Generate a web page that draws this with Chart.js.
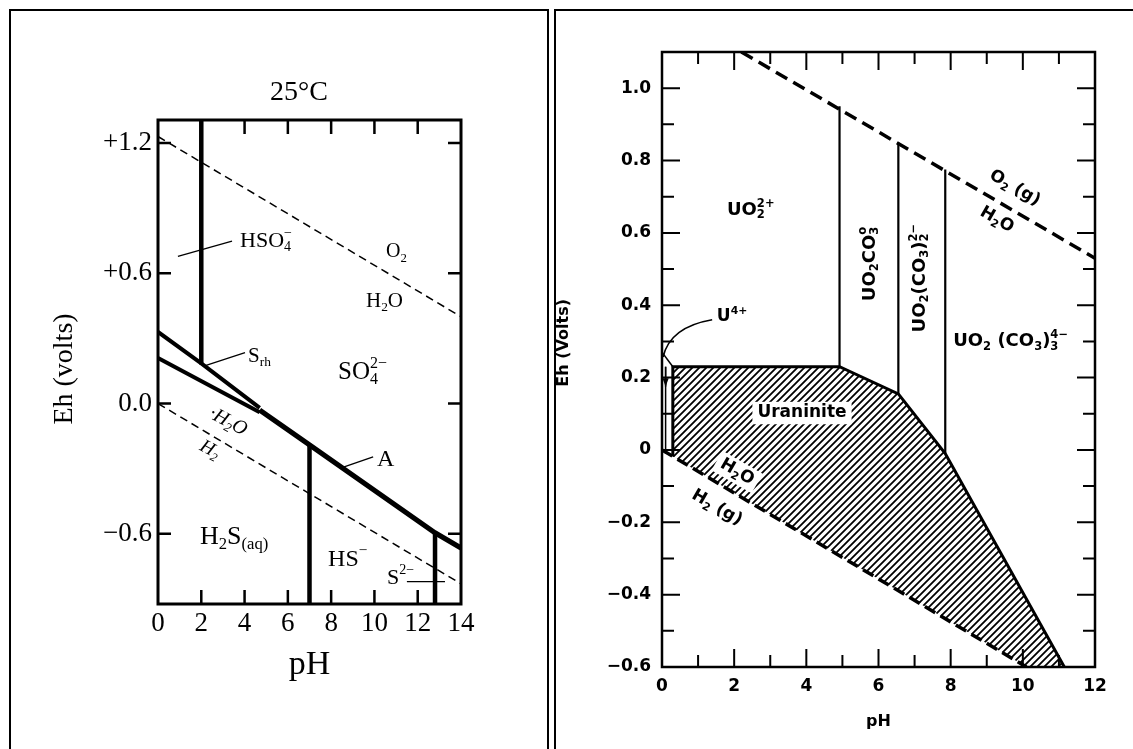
<!DOCTYPE html>
<html>
<head>
<meta charset="utf-8">
<title>Eh-pH diagrams</title>
<script src="https://cdn.jsdelivr.net/npm/chart.js@4.4.1/dist/chart.umd.min.js"></script>
<style>
  body { margin: 0; background: #fff; width: 1133px; height: 749px; overflow: hidden; position: relative; }
  .frame { position: absolute; border: 2px solid #000; box-sizing: border-box; }
  canvas { position: absolute; top: 0; }
</style>
</head>
<body>
<div class="frame" style="left:9px;top:9px;width:540px;height:760px"></div>
<div class="frame" style="left:554px;top:9px;width:600px;height:760px"></div>
<canvas id="sulfur" width="552" height="749" style="left:0"></canvas>
<canvas id="uranium" width="577" height="749" style="left:556px"></canvas>
<script>
// ---- sulfur system, 25°C (left) ----
const sPhTicks = [0, 2, 4, 6, 8, 10, 12, 14];
const sEhTicks = [-0.6, 0.0, 0.6, 1.2];
const sO2Ph = [0, 14],            sO2Eh = [1.23, 0.40];
const sH2Ph = [0, 14],            sH2Eh = [0.00, -0.83];
const sHso4Ph = [2, 2],           sHso4Eh = [1.31, 0.18];
const sRhTopPh = [0, 2, 4.7],     sRhTopEh = [0.33, 0.185, -0.02];
const sRhBotPh = [0, 4.7],        sRhBotEh = [0.21, -0.04];
const sAPh = [4.7, 7, 12.8, 14],  sAEh = [-0.03, -0.19, -0.595, -0.665];
const sHsPh = [7, 7],             sHsEh = [-0.19, -0.95];
const sS2Ph = [12.8, 12.8],       sS2Eh = [-0.595, -0.95];

// ---- uranium system (right) ----
const uPhTicks = [0, 2, 4, 6, 8, 10, 12];
const uPhMinor = [1, 3, 5, 7, 9, 11];
const uEhTicks = [-0.6, -0.4, -0.2, 0, 0.2, 0.4, 0.6, 0.8, 1.0];
const uEhMinor = [-0.5, -0.3, -0.1, 0.1, 0.3, 0.5, 0.7, 0.9];
const uO2Ph = [2.2, 12],          uO2Eh = [1.10, 0.53];
const uH2Ph = [0, 10.1],          uH2Eh = [0.0, -0.6];
const uCo3Ph = [4.92, 4.92],      uCo3Eh = [0.95, 0.23];
const uDiPh = [6.55, 6.55],       uDiEh = [0.85, 0.155];
const uTriPh = [7.85, 7.85],      uTriEh = [0.775, -0.01];
const uU4Ph = [0, 0.3],           uU4Eh = [0.27, 0.23];
const uEdgePh = [0.3, 0.3, 4.92, 6.55, 7.85, 11.15];
const uEdgeEh = [-0.018, 0.23, 0.23, 0.155, -0.01, -0.6];
const uUranPh = [0.3, 4.92, 6.55, 7.85, 11.15, 10.1, 0.3, 0.3];
const uUranEh = [0.23, 0.23, 0.155, -0.01, -0.6, -0.6, -0.018, 0.23];

const serif = "'Liberation Serif', 'Times New Roman', serif";
const sans = "'DejaVu Sans', sans-serif";

function pts(xs, ys) { return xs.map((x, i) => ({ x: x, y: ys[i] })); }

function seg(xs, ys, w, dash) {
  return {
    data: pts(xs, ys), showLine: true, fill: false, tension: 0,
    borderColor: '#000', borderWidth: w, borderDash: dash || [],
    borderCapStyle: 'butt', borderJoinStyle: 'miter', pointRadius: 0
  };
}

const fixTicks = vals => s => { s.ticks = vals.map(v => ({ value: v })); };

function hatch() {
  const n = 7;
  const c = document.createElement('canvas');
  c.width = c.height = n;
  const g = c.getContext('2d');
  g.strokeStyle = '#000';
  g.lineWidth = 1.8;
  g.beginPath();
  g.moveTo(0, n); g.lineTo(n, 0);
  g.moveTo(-n / 2, n / 2); g.lineTo(n / 2, -n / 2);
  g.moveTo(n / 2, n * 1.5); g.lineTo(n * 1.5, n / 2);
  g.stroke();
  return g.createPattern(c, 'repeat');
}

// "HSO_{4}^{−}" -> normal / sub / sup pieces
function parseRich(s) {
  const out = [];
  let i = 0, buf = '';
  while (i < s.length) {
    const c = s[i];
    if ((c === '_' || c === '^') && s[i + 1] === '{') {
      if (buf) { out.push({ t: buf, k: 'n' }); buf = ''; }
      const j = s.indexOf('}', i);
      out.push({ t: s.slice(i + 2, j), k: c === '_' ? 'sub' : 'sup' });
      i = j + 1;
    } else { buf += c; i++; }
  }
  if (buf) out.push({ t: buf, k: 'n' });
  return out;
}

function drawRich(ctx, lab, px, py, fontFn) {
  const parts = parseRich(lab.s);
  const size = lab.size;
  const items = [];
  let w = 0;
  parts.forEach((p, i) => {
    const sz = p.k === 'n' ? size : size * 0.64;
    ctx.font = fontFn(sz, lab);
    const tw = ctx.measureText(p.t).width;
    const dy = p.k === 'sub' ? size * 0.3 : p.k === 'sup' ? -size * 0.36 : 0;
    if (p.k === 'sup' && i > 0 && parts[i - 1].k === 'sub') {
      const x0 = items[items.length - 1].x;   // stack over the subscript
      items.push({ t: p.t, x: x0, dy: dy, sz: sz });
      w = Math.max(w, x0 + tw);
    } else {
      items.push({ t: p.t, x: w, dy: dy, sz: sz });
      w += tw;
    }
  });
  ctx.save();
  ctx.translate(px, py);
  if (lab.rot) ctx.rotate(lab.rot * Math.PI / 180);
  const x0 = lab.align === 'center' ? -w / 2 : 0;
  if (lab.bg) {
    ctx.fillStyle = '#fff';
    ctx.fillRect(x0 - 5, -size * 0.66, w + 10, size * 1.32);
  }
  ctx.fillStyle = '#000';
  ctx.textBaseline = 'middle';
  ctx.textAlign = 'left';
  items.forEach(it => { ctx.font = fontFn(it.sz, lab); ctx.fillText(it.t, x0 + it.x, it.dy); });
  ctx.restore();
}

// frame, inward tick marks, leader lines and field labels
function overlay(spec) {
  return {
    id: 'overlay',
    afterDatasetsDraw(chart) {
      const { ctx, chartArea: a, scales: { x, y } } = chart;
      const X = v => x.getPixelForValue(v), Y = v => y.getPixelForValue(v);
      ctx.save();
      ctx.strokeStyle = '#000';
      ctx.fillStyle = '#000';
      ctx.lineWidth = spec.tickWidth;
      ctx.beginPath();
      spec.xMarks.forEach(([vals, len]) => vals.forEach(v => {
        ctx.moveTo(X(v), a.top); ctx.lineTo(X(v), a.top + len);
        ctx.moveTo(X(v), a.bottom); ctx.lineTo(X(v), a.bottom - len);
      }));
      spec.yMarks.forEach(([vals, len]) => vals.forEach(v => {
        ctx.moveTo(a.left, Y(v)); ctx.lineTo(a.left + len, Y(v));
        ctx.moveTo(a.right, Y(v)); ctx.lineTo(a.right - len, Y(v));
      }));
      ctx.stroke();
      ctx.lineWidth = spec.frameWidth;
      ctx.strokeRect(a.left, a.top, a.width, a.height);

      spec.leaders.forEach(l => {
        const p = l.pts.map(q => [X(q[0]), Y(q[1])]);
        ctx.lineWidth = l.w || 1.3;
        ctx.beginPath();
        ctx.moveTo(p[0][0], p[0][1]);
        if (p.length === 3) ctx.quadraticCurveTo(p[1][0], p[1][1], p[2][0], p[2][1]);
        else ctx.lineTo(p[1][0], p[1][1]);
        ctx.stroke();
        if (l.head) {
          const e = p[p.length - 1], b = p[p.length - 2];
          const ang = Math.atan2(e[1] - b[1], e[0] - b[0]);
          ctx.beginPath();
          ctx.moveTo(e[0], e[1]);
          ctx.lineTo(e[0] - 9 * Math.cos(ang - 0.35), e[1] - 9 * Math.sin(ang - 0.35));
          ctx.lineTo(e[0] - 9 * Math.cos(ang + 0.35), e[1] - 9 * Math.sin(ang + 0.35));
          ctx.closePath();
          ctx.fill();
        }
      });
      spec.labels.forEach(l => drawRich(ctx, l, X(l.ph), Y(l.eh), spec.font));
      ctx.restore();
    }
  };
}

const sulfurTick = v => v > 0 ? '+' + v.toFixed(1) : v < 0 ? '\u2212' + Math.abs(v).toFixed(1) : '0.0';
const uranTick = v => Math.abs(v) < 1e-9 ? '0' : (v < 0 ? '\u2212' : '') + Math.abs(v).toFixed(1);

new Chart(document.getElementById('sulfur'), {
  type: 'scatter',
  data: {
    datasets: [
      seg(sO2Ph, sO2Eh, 1.5, [8, 5]),
      seg(sH2Ph, sH2Eh, 1.5, [8, 5]),
      seg(sHso4Ph, sHso4Eh, 4.5),
      seg(sRhTopPh, sRhTopEh, 4),
      seg(sRhBotPh, sRhBotEh, 4),
      seg(sAPh, sAEh, 5),
      seg(sHsPh, sHsEh, 4.5),
      seg(sS2Ph, sS2Eh, 4.5)
    ]
  },
  options: {
    responsive: false, animation: false, events: [],
    layout: { padding: { left: 0, right: 91, top: 0, bottom: 0 } },
    plugins: {
      legend: { display: false }, tooltip: { enabled: false },
      title: {
        display: true, text: '25°C   ', fullSize: false, color: '#000',
        font: { family: serif, size: 28, weight: 'normal' },
        padding: { top: 76, bottom: 10.4 }
      }
    },
    scales: {
      x: {
        type: 'linear', min: 0, max: 14,
        afterBuildTicks: fixTicks(sPhTicks),
        afterFit: s => { s.height = 145; },
        grid: { display: false, drawTicks: false }, border: { display: false },
        ticks: { color: '#000', padding: 4, maxRotation: 0, autoSkip: false, font: { family: serif, size: 27 } },
        title: { display: true, text: 'pH', color: '#000', font: { family: serif, size: 34 }, padding: { top: 0, bottom: 63.6 } }
      },
      y: {
        type: 'linear', min: -0.923, max: 1.306,
        afterBuildTicks: fixTicks(sEhTicks),
        afterFit: s => { s.width = 158; },
        grid: { display: false, drawTicks: false }, border: { display: false },
        ticks: { color: '#000', padding: 6, autoSkip: false, font: { family: serif, size: 27 }, callback: sulfurTick },
        title: { display: true, text: 'Eh (volts)  ', color: '#000', font: { family: serif, size: 28 }, padding: { top: 48, bottom: 0 } }
      }
    }
  },
  plugins: [overlay({
    font: (sz, l) => `${l.style || 'normal'} normal ${sz}px ${serif}`,
    frameWidth: 3, tickWidth: 2.5,
    xMarks: [[[2, 4, 6, 8, 10, 12], 14]],
    yMarks: [[sEhTicks, 13]],
    leaders: [
      { pts: [[0.92, 0.678], [3.42, 0.748]] },
      { pts: [[2.08, 0.171], [4.02, 0.235]] },
      { pts: [[8.5, -0.295], [9.94, -0.245]] },
      { pts: [[11.5, -0.82], [13.26, -0.82]] }
    ],
    labels: [
      { s: 'HSO_{4}^{\u2212}', ph: 3.79, eh: 0.748, size: 22 },
      { s: 'O_{2}', ph: 10.54, eh: 0.697, size: 20 },
      { s: 'H_{2}O', ph: 9.61, eh: 0.471, size: 21 },
      { s: 'SO_{4}^{2\u2212}', ph: 8.32, eh: 0.143, size: 25 },
      { s: 'S_{rh}', ph: 4.16, eh: 0.217, size: 21 },
      { s: '\u00b7H_{2}O', ph: 3.23, eh: -0.083, size: 20, rot: 28, style: 'italic', align: 'center' },
      { s: 'H_{2}', ph: 2.40, eh: -0.212, size: 19, rot: 28, style: 'italic', align: 'center' },
      { s: 'A', ph: 10.12, eh: -0.258, size: 24 },
      { s: 'H_{2}S_{(aq)}', ph: 1.94, eh: -0.614, size: 26 },
      { s: 'HS^{\u2212}', ph: 7.86, eh: -0.72, size: 24 },
      { s: 'S^{2\u2212}', ph: 10.58, eh: -0.803, size: 22 }
    ]
  })]
});

new Chart(document.getElementById('uranium'), {
  type: 'scatter',
  data: {
    datasets: [
      seg(uO2Ph, uO2Eh, 3.5, [13, 7]),
      seg(uH2Ph, uH2Eh, 3.5, [12, 6]),
      seg(uCo3Ph, uCo3Eh, 2.2),
      seg(uDiPh, uDiEh, 2.2),
      seg(uTriPh, uTriEh, 2.2),
      seg(uU4Ph, uU4Eh, 1.5),
      seg(uEdgePh, uEdgeEh, 3),
      {
        data: pts(uUranPh, uUranEh), showLine: true, tension: 0, fill: 'shape',
        backgroundColor: hatch(), borderColor: 'rgba(0,0,0,0)', borderWidth: 0, pointRadius: 0
      }
    ]
  },
  options: {
    responsive: false, animation: false, events: [],
    layout: { padding: { left: 0, right: 38, top: 52, bottom: 0 } },
    plugins: { legend: { display: false }, tooltip: { enabled: false } },
    scales: {
      x: {
        type: 'linear', min: 0, max: 12,
        afterBuildTicks: fixTicks(uPhTicks),
        afterFit: s => { s.height = 82; },
        grid: { display: false, drawTicks: false }, border: { display: false },
        ticks: { color: '#000', padding: 9, maxRotation: 0, autoSkip: false, font: { family: sans, size: 17, weight: 'bold' } },
        title: { display: true, text: 'pH', color: '#000', font: { family: sans, size: 16, weight: 'bold' }, padding: { top: 0, bottom: 17.4 } }
      },
      y: {
        type: 'linear', min: -0.6, max: 1.1,
        afterBuildTicks: fixTicks(uEhTicks),
        afterFit: s => { s.width = 106; },
        grid: { display: false, drawTicks: false }, border: { display: false },
        ticks: { color: '#000', padding: 11, autoSkip: false, font: { family: sans, size: 17, weight: 'bold' }, callback: uranTick },
        title: { display: true, text: '      Eh (Volts)', color: '#000', font: { family: sans, size: 16, weight: 'bold', lineHeight: 1 }, padding: { top: 0, bottom: 0 } }
      }
    }
  },
  plugins: [overlay({
    font: (sz) => `normal bold ${sz}px ${sans}`,
    frameWidth: 2.5, tickWidth: 2,
    xMarks: [[uPhTicks, 18], [uPhMinor, 12]],
    yMarks: [[uEhTicks, 18], [uEhMinor, 12]],
    leaders: [
      { pts: [[0.03, 0.257], [0.22, 0.34], [1.39, 0.36]], w: 1.5 },
      { pts: [[0.1, 0.23], [0.1, -0.01]], w: 1.5 },
      { pts: [[0.1, 0.23], [0.1, 0.175]], w: 1.5, head: true }
    ],
    labels: [
      { s: 'UO_{2}^{2+}', ph: 1.80, eh: 0.663, size: 18 },
      { s: 'UO_{2}CO_{3}^{o}', ph: 5.76, eh: 0.514, size: 18, rot: -90, align: 'center' },
      { s: 'UO_{2}(CO_{3})_{2}^{2\u2212}', ph: 7.15, eh: 0.475, size: 18, rot: -90, align: 'center' },
      { s: 'UO_{2} (CO_{3})_{3}^{4\u2212}', ph: 8.07, eh: 0.30, size: 18 },
      { s: 'O_{2} (g)', ph: 9.78, eh: 0.724, size: 17, rot: 30, align: 'center' },
      { s: 'H_{2}O', ph: 9.28, eh: 0.636, size: 17, rot: 30, align: 'center' },
      { s: 'Uraninite', ph: 3.88, eh: 0.102, size: 17, align: 'center', bg: true },
      { s: 'H_{2}O', ph: 2.08, eh: -0.061, size: 17, rot: 30, align: 'center', bg: true },
      { s: 'H_{2} (g)', ph: 1.52, eh: -0.16, size: 17, rot: 30, align: 'center' },
      { s: 'U^{4+}', ph: 1.52, eh: 0.368, size: 17 }
    ]
  })]
});
</script>
</body>
</html>
